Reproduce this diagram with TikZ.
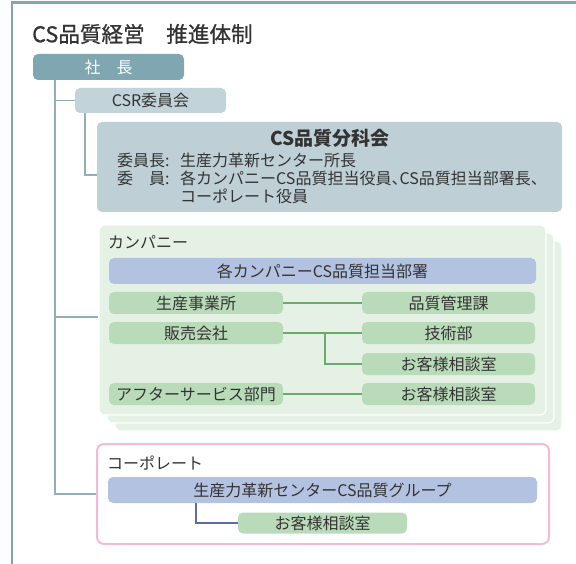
\documentclass[tikz,border=0pt]{standalone}
\usepackage{fontspec}
\setmainfont{Noto Sans CJK JP}
\newfontfamily\haltfont[RawFeature=+halt]{Noto Sans CJK JP}
\newfontfamily\titlefont[FakeBold=0.8]{Noto Sans CJK JP}
\usetikzlibrary{calc}
\definecolor{frameC}{HTML}{7FA6B1}
\definecolor{trunkC}{HTML}{8FB0B9}
\definecolor{csrC}{HTML}{C2D3D9}
\definecolor{bunkaC}{HTML}{BFCFD6}
\definecolor{compC}{HTML}{E6F1E6}
\definecolor{lavC}{HTML}{B4C2E1}
\definecolor{greenC}{HTML}{B9DBB9}
\definecolor{glineC}{HTML}{6AAA6A}
\definecolor{pinkC}{HTML}{F2BBD4}
\definecolor{corpLineC}{HTML}{5C6C9E}
\definecolor{txtC}{HTML}{333333}
\tikzset{
  basebox/.style={rounded corners=5pt, inner sep=0pt, text=txtC, font=\fontsize{16}{18}\selectfont},
  tealbox/.style={basebox, fill=frameC, text=white},
  csrbox/.style={basebox, fill=csrC},
  bunkabox/.style={basebox, fill=bunkaC},
  compbox/.style={rounded corners=6pt, fill=compC, draw=white, line width=1.2pt, inner sep=0pt},
  lavbox/.style={basebox, fill=lavC},
  gbox/.style={basebox, fill=greenC},
  lbl/.style={inner sep=0pt, anchor=west, text=txtC, font=\fontsize{16}{18}\selectfont},
  trunk/.style={draw=trunkC, line width=1.4pt},
  gline/.style={draw=glineC, line width=1.4pt},
  cline/.style={draw=corpLineC, line width=1.4pt},
  frame/.style={draw=frameC, line width=2.2pt},
}
\begin{document}
\begin{tikzpicture}[x=1pt,y=-1pt]
\useasboundingbox (0,0) rectangle (576,564);
% frame
\draw[frame] (12,564) -- (12,2.5) -- (576,2.5);
% title
\node[lbl, font=\titlefont\fontsize{21.6}{24}\selectfont] (title) at (32,34) {CS品質経営　推進体制};
% top boxes
\node[tealbox, minimum width=151pt, minimum height=26pt] (shacho) at (108.5,67) {社　長};
\node[csrbox, minimum width=151pt, minimum height=25pt] (csr) at (150.5,100.5) {CSR委員会};
\node[bunkabox, minimum width=465pt, minimum height=90pt] (bunka) at (329.5,167) {};
\node[inner sep=0pt, text=txtC, font=\fontsize{19}{20}\selectfont\bfseries] (bunkaT) at (330,138) {CS品質分科会};
\node[lbl] (l1a) at (117,160) {委員長:};
\node[lbl] (l1b) at (180,160) {生産力革新センター所長};
\node[lbl] (l2a) at (117,178) {委　員:};
\node[lbl] (l2b) at (180,178) {各カンパニーCS品質担当役員{\haltfont 、}CS品質担当部署長{\haltfont 、}};
\node[lbl] (l3b) at (180,196) {コーポレート役員};
% company stack
\node[compbox, minimum width=447pt, minimum height=190pt] (c3) at (338.5,336) {};
\node[compbox, minimum width=447pt, minimum height=190pt] (c2) at (330.5,328) {};
\node[compbox, minimum width=447pt, minimum height=190pt] (c1) at (322.5,320) {};
\node[lbl] (compL) at (108,242) {カンパニー};
\node[lavbox, minimum width=427pt, minimum height=26pt] (kaku) at (322.5,271) {各カンパニーCS品質担当部署};
\node[gbox, minimum width=174pt, minimum height=22pt] (seisan) at (196,303) {生産事業所};
\node[gbox, minimum width=174pt, minimum height=22pt] (hanbai) at (196,333) {販売会社};
\node[gbox, minimum width=174pt, minimum height=22pt] (after) at (196,394) {アフターサービス部門};
\node[gbox, minimum width=173pt, minimum height=22pt] (hinkan) at (448.5,303) {品質管理課};
\node[gbox, minimum width=173pt, minimum height=22pt] (gijutsu) at (448.5,333) {技術部};
\node[gbox, minimum width=173pt, minimum height=22pt] (okyaku1) at (448.5,364) {お客様相談室};
\node[gbox, minimum width=173pt, minimum height=22pt] (okyaku2) at (448.5,394) {お客様相談室};
\draw[gline] (seisan.east) -- (hinkan.west);
\draw[gline] (hanbai.east) -- (gijutsu.west);
\coordinate (gsplit) at (325,333);
\draw[gline] (gsplit) |- (okyaku1.west);
\draw[gline] (after.east) -- (okyaku2.west);
% corporate
\node[draw=pinkC, line width=2pt, rounded corners=7pt, minimum width=452pt, minimum height=100pt, inner sep=0pt] (corp) at (323,494) {};
\node[lbl] (corpL) at (107,463) {コーポレート};
\node[lavbox, minimum width=429pt, minimum height=26pt] (group) at (322.5,490) {生産力革新センターCS品質グループ};
\node[gbox, minimum width=169pt, minimum height=21pt] (okyakuC) at (322.5,523) {お客様相談室};
\coordinate (gsplitC) at (196,503);
\draw[cline] (gsplitC) |- (okyakuC.west);
% trunk
\coordinate (t0) at (55,80);
\draw[trunk] (t0) |- (corp.west);
\draw[trunk] (t0 |- csr.west) -- (csr.west);
\coordinate (tc) at (55,317);
\draw[trunk] (tc) -- (tc -| c1.west);
\coordinate (csrdown) at (85,113);
\draw[trunk] (csrdown) |- (bunka.west |- 0,175);
\end{tikzpicture}
\end{document}
